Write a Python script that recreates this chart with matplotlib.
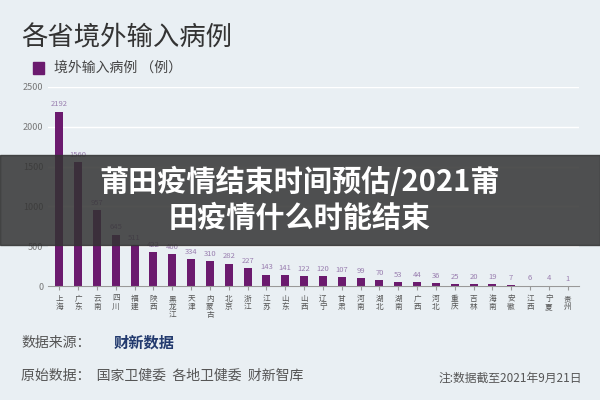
import matplotlib
matplotlib.use("Agg")
import matplotlib.pyplot as plt
from matplotlib.patches import Rectangle

plt.rcParams['font.family'] = ['Noto Sans CJK SC', 'DejaVu Sans']

provinces = ['上海','广东','云南','四川','福建','陕西','黑龙江','天津','内蒙古','北京','浙江','江苏','山东','山西','辽宁','甘肃','河南','湖北','湖南','广西','河北','重庆','吉林','海南','安徽','江西','宁夏','贵州']
values = [2192,1560,957,645,511,422,400,334,310,282,227,143,141,122,120,107,99,70,53,44,36,25,20,19,7,6,4,1]
yticks = [0,500,1000,1500,2000,2500]

bg = '#e9eff3'
purple = '#6b1a6e'
fig = plt.figure(figsize=(6,4), dpi=100, facecolor=bg)
ax = fig.add_axes([0.08, 0.285, 0.885, 0.4975], facecolor=bg)
x = range(len(values))
ax.bar(x, values, width=0.42, color=purple)
for i, v in enumerate(values):
    ax.text(i, v+40, str(v), ha='center', va='bottom', fontsize=5.5, color='#9a7fb0')
ax.set_ylim(0, 2500)
ax.set_xlim(-0.6, len(values)-0.4)
ax.set_yticks(yticks)
ax.tick_params(axis='y', length=0, labelsize=6.5, colors='#777777')
ax.set_xticks(list(x))
ax.set_xticklabels(['\n'.join(p) for p in provinces], fontsize=5.5, color='#555555', linespacing=1.0)
ax.tick_params(axis='x', length=3, color='#999999')
ax.grid(axis='y', color='#ffffff', linewidth=1)
ax.set_axisbelow(True)
for s in ['top','right','left']:
    ax.spines[s].set_visible(False)
ax.spines['bottom'].set_color('#999999')

fig.text(0.035, 0.905, '各省境外输入病例', fontsize=19, color='#333333', va='center')
fig.patches.append(Rectangle((0.055, 0.815), 0.018, 0.03, transform=fig.transFigure, color=purple))
fig.text(0.09, 0.83, '境外输入病例 （例）', fontsize=10, color='#444444', va='center')
fig.text(0.035, 0.143, '数据来源：', fontsize=10, color='#555555', va='center')
fig.text(0.19, 0.143, '财新数据', fontsize=11, color='#223a6e', va='center', fontweight='bold')
fig.text(0.035, 0.06, '原始数据：  国家卫健委  各地卫健委  财新智库', fontsize=10, color='#555555', va='center')
fig.text(0.97, 0.055, '注:数据截至2021年9月21日', fontsize=8.5, color='#555555', va='center', ha='right')

fig.patches.append(Rectangle((0, 0.3875), 1, 0.225, transform=fig.transFigure, color='#333333', alpha=0.85, zorder=10))
fig.text(0.5, 0.5, '莆田疫情结束时间预估/2021莆\n田疫情什么时能结束', fontsize=21, color='white',
         ha='center', va='center', fontweight='bold', zorder=11, linespacing=1.25)

fig.savefig('out.png', dpi=100, facecolor=bg)
